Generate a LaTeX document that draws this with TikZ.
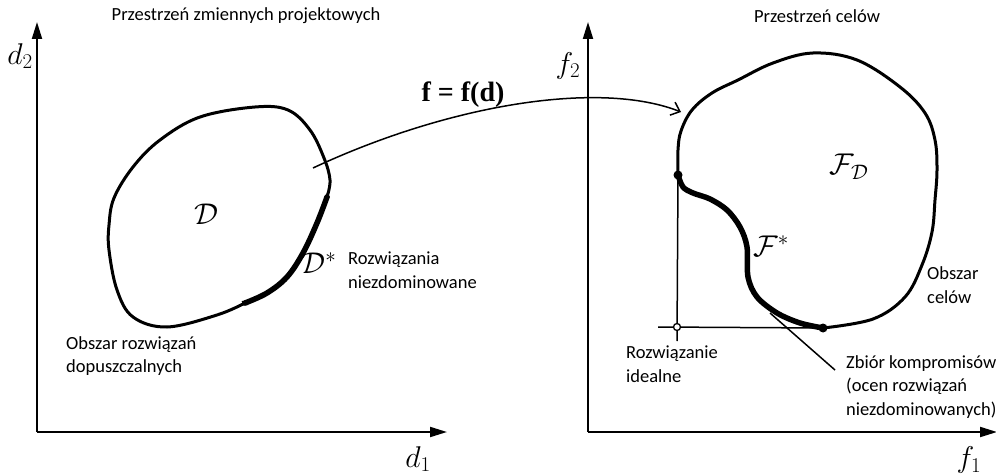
\RequirePackage{fix-cm}
\documentclass[tikz,border=0pt]{standalone}
\usepackage{fontspec}
\setmainfont{Carlito}
\newfontfamily\tnr{Liberation Serif}
\usetikzlibrary{arrows.meta,shapes.geometric}
\begin{document}
\begin{tikzpicture}[x=1pt,y=-1pt,
 axis/.style={line width=2pt,-{Triangle[length=17pt,width=10pt]}},
 blob/.style={line width=3pt, line join=round, line cap=round},
 front/.style={line width=5.5pt, line cap=round, line join=round},
 thinline/.style={line width=1.5pt},
 lbl/.style={font=\fontsize{18.5}{23.5}\selectfont, align=left, inner sep=0pt, anchor=west},
 ttl/.style={font=\fontsize{18.5}{22}\selectfont, inner sep=0pt},
 mlbl/.style={font=\fontsize{30}{34}\selectfont, inner sep=0pt},
 dot/.style={circle, fill, inner sep=0pt, minimum size=9pt},
 tick/.style={diamond, fill, inner sep=0pt, minimum width=6pt, minimum height=8pt},
 odot/.style={circle, draw, fill=white, line width=1.3pt, inner sep=0pt, minimum size=7pt},
 ]
\useasboundingbox (0,0) rectangle (996,476);

% ---------- left panel ----------
\coordinate (O1) at (37,432);
\coordinate (Y1) at (37,22);
\coordinate (X1) at (447,432);
\draw[axis] (O1) -- (Y1);
\draw[axis] (O1) -- (X1);
\node[mlbl] (d2) at (20,56) {$d_2$};
\node[mlbl] (d1) at (418,459) {$d_1$};
\node[ttl] (t1) at (246,16) {Przestrzeń zmiennych projektowych};

\draw[blob] plot[smooth, tension=0.6] coordinates {(245,303) (217,315) (167,327) (133,317) (117,290) (109,250) (109,225) (114,198) (133,167) (160,140) (200,117) (255,107) (288,110) (310,130) (324,158) (330,180) (327,197)};
\draw[front] plot[smooth, tension=0.6] coordinates {(327,197) (317,223) (303,253) (287,277) (267,293) (245,303)};
\node[tick] (mA) at (327,197) {};
\node[tick, rotate=60] (mB) at (245,303) {};

\node[mlbl] (D) at (206,214) {$\mathcal{D}$};
\node[mlbl] (Ds) at (319,263) {$\mathcal{D}^{*}$};
\node[lbl] (rn) at (348,270) {Rozwiązania\\niezdominowane};
\node[lbl] (ord) at (66,356) {Obszar rozwiązań\\dopuszczalnych};

% ---------- mapping arrow ----------
\coordinate (ms) at (313,168);
\coordinate (me) at (681,112);
\draw[thinline, -{Straight Barb[length=8pt,width=14pt]}] (ms) .. controls (450,104) and (600,80) .. (me);
\node[font=\tnr\bfseries\fontsize{28}{30}\selectfont, inner sep=0pt] (fmap) at (463,95) {f = f(d)};

% ---------- right panel ----------
\coordinate (O2) at (588,432);
\coordinate (Y2) at (588,22);
\coordinate (X2) at (997,432);
\draw[axis] (O2) -- (Y2);
\draw[axis] (O2) -- (X2);
\node[mlbl] (f2) at (568,66) {$f_2$};
\node[mlbl] (f1) at (969,460) {$f_1$};
\node[ttl] (t2) at (817,16) {Przestrzeń celów};

\draw[blob] plot[smooth, tension=0.6] coordinates {(678,175) (678,150) (681,131) (692,110) (712,93) (738,80) (773,63) (813,53) (857,60) (900,87) (925,113) (935,140) (937,170) (935,200) (932,232) (922,265) (905,297) (873,319) (823,328)};
\draw[front] plot[smooth, tension=0.55] coordinates {(823,328) (800,323) (777,313) (757,297) (748,277) (747,247) (740,227) (727,210) (710,199) (693,193) (683,187) (678,175)};

\coordinate (vb) at (677,341);
\coordinate (hl) at (658,327);
\node[dot] (P1) at (678,175) {};
\node[dot] (P2) at (823,328) {};
\draw[thinline] (P1.center) -- (vb);
\draw[thinline] (hl) -- (P2.center);
\node[odot] (ideal) at (677,327) {};

\coordinate (lf) at (770,313);
\coordinate (lt) at (835,370);
\draw[thinline] (lf) -- (lt);

\node[mlbl] (FD) at (849,167) {$\mathcal{F}_{\mathcal{D}}$};
\node[mlbl] (Fs) at (771,246) {$\mathcal{F}^{*}$};
\node[lbl] (oc) at (927,285) {Obszar\\celów};
\node[lbl] (ri) at (626,364) {Rozwiązanie\\idealne};
\node[lbl] (zk) at (846,387) {Zbiór kompromisów\\(ocen rozwiązań\\niezdominowanych)};
\end{tikzpicture}
\end{document}
